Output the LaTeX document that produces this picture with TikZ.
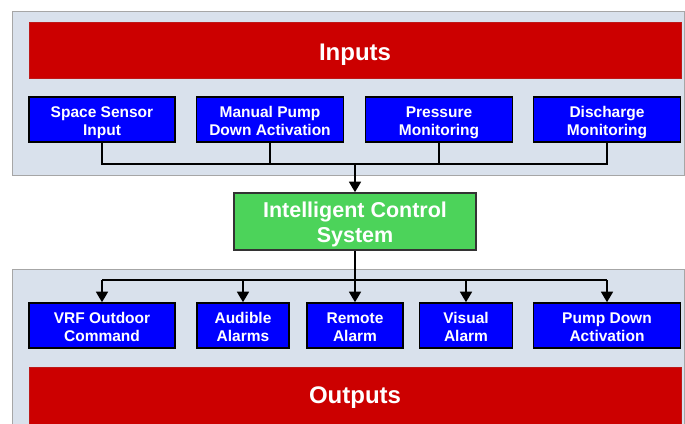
\documentclass[tikz,border=0pt]{standalone}
\usepackage{fontspec}
\setmainfont{Liberation Sans}
\usetikzlibrary{arrows.meta}
\definecolor{panelbg}{HTML}{D9E1EC}
\definecolor{panelbd}{HTML}{A6A6A6}
\definecolor{barred}{HTML}{CC0000}
\definecolor{boxblue}{HTML}{0000FF}
\definecolor{boxgreen}{HTML}{4CD35A}
\tikzset{
  panel/.style={draw=panelbd, fill=panelbg, line width=1pt},
  bar/.style={draw=barred!80!gray, fill=barred, line width=0.8pt, text=white, font=\bfseries\fontsize{24}{28}\selectfont},
  bbox/.style={draw=black, fill=boxblue, line width=1.6pt, text=white, align=center, font=\bfseries\fontsize{15.5}{18}\selectfont, inner sep=0pt, text height=31pt, text depth=0pt},
  gbox/.style={draw=black!80, fill=boxgreen, line width=1.6pt, text=white, align=center, font=\bfseries\fontsize{21.5}{25}\selectfont, inner sep=0pt, text height=41pt, text depth=0pt},
  conn/.style={line width=1.6pt, draw=black},
  arr/.style={conn, -{Triangle[width=12pt,length=10.5pt]}},
}
\begin{document}
\begin{tikzpicture}[x=1pt,y=-1pt]
\useasboundingbox (0,0) rectangle (685,423);
\clip (0,0) rectangle (685,423);
% panels
\draw[panel] (12,11) rectangle (684,175);
\draw[panel] (12,269) rectangle (684,440);
% red bars
\node[bar, minimum width=652pt, minimum height=56pt, inner sep=0pt, text height=20pt, text depth=0pt] (inputs) at (355,50) {Inputs};
\node[bar, minimum width=652pt, minimum height=60pt, anchor=north] (outputs) at (355,367) {};
\node[text=white, font=\bfseries\fontsize{24}{28}\selectfont, anchor=base, inner sep=0pt] (outlbl) at (355,403) {Outputs};
% input boxes
\node[bbox, minimum width=146pt, minimum height=45pt] (i1) at (102,119.5) {Space Sensor\\Input};
\node[bbox, minimum width=147pt, minimum height=45pt] (i2) at (270,119.5) {Manual Pump\\Down Activation};
\node[bbox, minimum width=147pt, minimum height=45pt] (i3) at (439,119.5) {Pressure\\Monitoring};
\node[bbox, minimum width=147pt, minimum height=45pt] (i4) at (607,119.5) {Discharge\\Monitoring};
% control
\node[gbox, minimum width=242pt, minimum height=57pt] (ctrl) at (355,221.5) {Intelligent Control\\System};
% output boxes
\node[bbox, minimum width=146pt, minimum height=45pt] (o1) at (102,325.5) {VRF Outdoor\\Command};
\node[bbox, minimum width=92pt, minimum height=45pt] (o2) at (243,325.5) {Audible\\Alarms};
\node[bbox, minimum width=96pt, minimum height=45pt] (o3) at (355,325.5) {Remote\\Alarm};
\node[bbox, minimum width=93pt, minimum height=45pt] (o4) at (466,325.5) {Visual\\Alarm};
\node[bbox, minimum width=147pt, minimum height=45pt] (o5) at (607,325.5) {Pump Down\\Activation};
% input bus
\coordinate (ibus) at (355,164);
\draw[conn] (i1.south) |- (i4.south |- ibus) -- (i4.south);
\draw[conn] (i2.south) -- (i2.south |- ibus);
\draw[conn] (i3.south) -- (i3.south |- ibus);
\draw[arr] (ibus) -- (ctrl.north);
% output bus
\coordinate (obus) at (355,280);
\draw[conn] (ctrl.south) -- (obus);
\draw[conn] (o1.north |- obus) -- (o5.north |- obus);
\draw[arr] (obus) -- (o3.north);
\draw[arr] (o1.north |- obus) -- (o1.north);
\draw[arr] (o2.north |- obus) -- (o2.north);
\draw[arr] (o4.north |- obus) -- (o4.north);
\draw[arr] (o5.north |- obus) -- (o5.north);
\end{tikzpicture}
\end{document}
